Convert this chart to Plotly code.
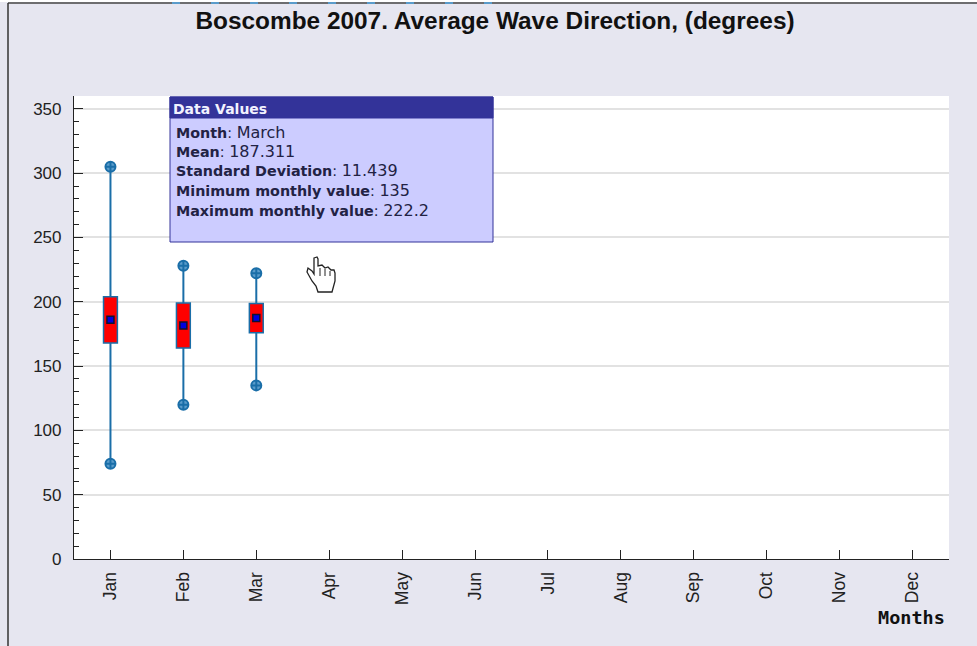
import plotly.graph_objects as go

months = ["Jan", "Feb", "Mar", "Apr", "May", "Jun", "Jul", "Aug", "Sep", "Oct", "Nov", "Dec"]
data_months = ["Jan", "Feb", "Mar"]
means = [186, 181.5, 187.311]
box_low = [168, 164, 175.9]
box_high = [204, 199, 198.75]
minimums = [74, 120, 135]
maximums = [305, 228, 222.2]

tip_title = "Data Values"
tip_lines = [("Month", "March"), ("Mean", "187.311"), ("Standard Deviation", "11.439"),
             ("Minimum monthly value", "135"), ("Maximum monthly value", "222.2")]

W, H = 977, 646
L, R, T, B = 74, 949, 96, 559
BG = "#E6E6F0"
BLUE = "#1A6EA8"


def px(x):
    return (x - L) / (R - L)


def py(y):
    return (B - y) / (B - T)


fig = go.Figure()

# whiskers
wx, wy = [], []
for m, lo, bl, bh, hi in zip(data_months, minimums, box_low, box_high, maximums):
    wx += [m, m, None, m, m, None]
    wy += [lo, bl, None, bh, hi, None]
fig.add_trace(go.Scatter(x=wx, y=wy, mode="lines", line=dict(color=BLUE, width=2), hoverinfo="skip"))

# boxes
fig.add_trace(go.Bar(x=data_months, y=[h - l for h, l in zip(box_high, box_low)], base=box_low,
                     width=0.19, marker=dict(color="#FF0000", line=dict(color=BLUE, width=1.5))))

# min / max
for vals in (minimums, maximums):
    fig.add_trace(go.Scatter(x=data_months, y=vals, mode="markers",
                             marker=dict(symbol="circle-cross", size=10, color="#5A9CCB",
                                         line=dict(color=BLUE, width=2))))

# mean
fig.add_trace(go.Scatter(x=data_months, y=means, mode="markers",
                         marker=dict(symbol="square", size=7, color="#0000E0", line=dict(color="#101030", width=1.5))))

shapes = []


def rect(x0, y0, x1, y1, fill, line=None, lw=1):
    shapes.append(dict(type="rect", xref="paper", yref="paper", x0=px(x0), x1=px(x1), y0=py(y0), y1=py(y1),
                       fillcolor=fill, line=dict(color=line or fill, width=lw), layer="above"))


def seg(x0, y0, x1, y1, color, lw):
    shapes.append(dict(type="line", xref="paper", yref="paper", x0=px(x0), x1=px(x1), y0=py(y0), y1=py(y1),
                       line=dict(color=color, width=lw), layer="above"))


# page frame
rect(0, 0, 977, 2, "#FFFFFF", "#FFFFFF", 0)
seg(8, 3, 977, 3, "#444444", 1.5)
seg(8, 3, 8, 646, "#333333", 1.5)
for i in range(9):
    seg(172 + 39 * i, 3, 180 + 39 * i, 3, "#5A9CCB", 2)

# tooltip
rect(170, 97, 493, 242, "#CCCCFF", "#333399", 1)
rect(170, 97, 493, 118, "#333399", "#333399", 1)

# hand cursor outline
hand = [(314, 258), (317, 257), (318, 259), (318, 266), (322, 265), (325, 268), (328, 267), (331, 270), (334, 270),
        (335, 273), (335, 281), (332, 292), (318, 292), (316, 286), (312, 281), (307, 272), (308, 268), (312, 271),
        (314, 274)]
path = "M " + " L ".join(f"{px(a):.5f},{py(b):.5f}" for a, b in hand) + " Z"
shapes.append(dict(type="path", xref="paper", yref="paper", path=path, fillcolor="white",
                   line=dict(color="#222222", width=1.3), layer="above"))
for x, y0, y1 in [(320, 268, 276), (325, 269, 276), (330, 271, 276)]:
    seg(x, y0, x, y1, "#222222", 1)

ann = [dict(text=f"<b>{tip_title}</b>", xref="paper", yref="paper", x=px(171), y=py(109), xanchor="left",
            yanchor="middle", showarrow=False, font=dict(family="DejaVu Sans", size=14, color="#F2F2FF")),
       dict(text="<b>Months</b>", xref="paper", yref="paper", x=px(947), y=py(617), xanchor="right",
            yanchor="middle", showarrow=False, font=dict(family="DejaVu Sans Mono", size=18.5, color="#111111"))]
for i, (k, v) in enumerate(tip_lines):
    ann.append(dict(text=f"<b>{k}</b>: <span style=\"font-size:16px\">{v}</span>", xref="paper", yref="paper",
                    x=px(174), y=py(132 + 19.5 * i), xanchor="left", yanchor="middle", showarrow=False,
                    font=dict(family="DejaVu Sans", size=14.3, color="#222244")))

fig.update_layout(
    width=W, height=H, autosize=False, showlegend=False, hovermode=False,
    margin=dict(l=L, r=W - R, t=T, b=H - B, pad=0),
    paper_bgcolor=BG, plot_bgcolor="white",
    title=dict(text="<b>Boscombe 2007. Average Wave Direction, (degrees)</b>", x=495 / W, xanchor="center",
               y=1 - 20 / H, yanchor="middle", font=dict(family="Liberation Sans", size=24.4, color="#111111")),
    shapes=shapes, annotations=ann,
    xaxis=dict(type="category", categoryorder="array", categoryarray=months, tickvals=months, range=[-0.5, 11.5],
               showgrid=False, showline=True, linecolor="#222222", linewidth=1.2, ticks="inside", ticklen=9,
               tickwidth=1.2, tickcolor="#222222", tickangle=-90, ticklabelstandoff=5,
               tickfont=dict(family="Liberation Sans", size=17.5, color="#222222")),
    yaxis=dict(range=[0, 360], tick0=0, dtick=50, showgrid=True, gridcolor="#E2E2E2", gridwidth=1.5, zeroline=False,
               showline=True, linecolor="#222222", linewidth=1.2, ticks="inside", ticklen=9, tickwidth=1.2,
               tickcolor="#222222", ticklabelstandoff=8,
               tickfont=dict(family="Liberation Sans", size=17, color="#222222"),
               minor=dict(dtick=10, ticks="inside", ticklen=5, tickwidth=1.2, tickcolor="#222222", showgrid=False)),
)

fig.write_html("out.html", config=dict(displayModeBar=False),
               post_script="document.body.style.margin='0';document.body.style.overflow='hidden';")
